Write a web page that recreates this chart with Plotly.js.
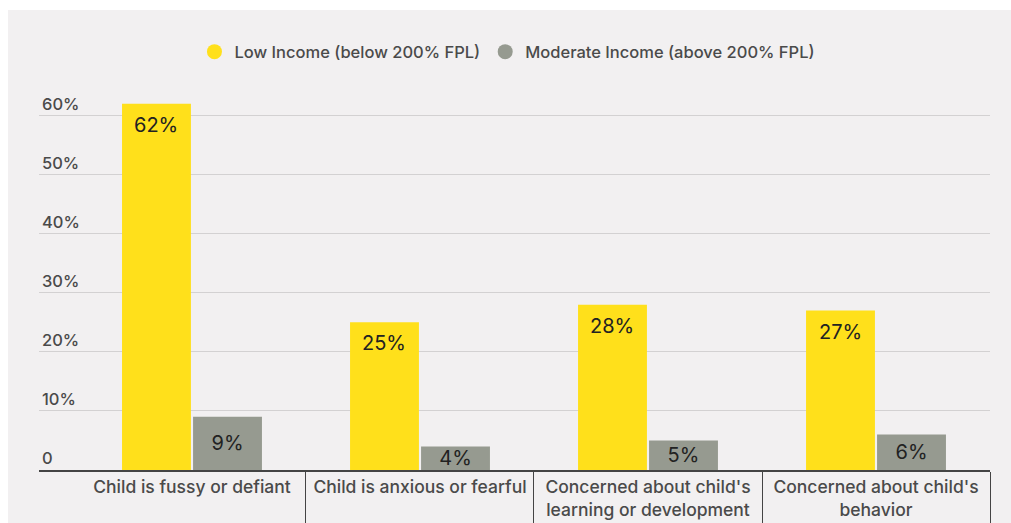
<!DOCTYPE html>
<html>
<head>
<meta charset="utf-8">
<script src="https://cdn.plot.ly/plotly-3.0.1.min.js"></script>
<style>
  html, body { margin: 0; padding: 0; background: #ffffff; }
  #chart { position: absolute; left: 8px; top: 10px; width: 1003px; height: 513px; }
</style>
</head>
<body>
<div id="chart"></div>
<script>
const categories = [
  "Child is fussy or defiant",
  "Child is anxious or fearful",
  "Concerned about child's<br>learning or development",
  "Concerned about child's<br>behavior"
];
const seriesNames = ["Low Income (below 200% FPL)", "Moderate Income (above 200% FPL)"];
const lowIncome = [62, 25, 28, 27];
const moderateIncome = [9, 4, 5, 6];
const yTickVals = [0, 10, 20, 30, 40, 50, 60];
const yTickText = ["0", "10%", "20%", "30%", "40%", "50%", "60%"];

const yellow = "#FFE01B";
const grey = "#969A90";
const font = "Inter, 'Open Sans', sans-serif";

const traces = [
  {
    type: "bar", x: categories, y: lowIncome, name: seriesNames[0],
    marker: { color: yellow }, showlegend: false, hoverinfo: "skip"
  },
  {
    type: "bar", x: categories, y: moderateIncome, name: seriesNames[1],
    marker: { color: grey }, showlegend: false,
    text: moderateIncome.map(v => v + "%"), textposition: "inside", insidetextanchor: "middle",
    constraintext: "none", textangle: 0,
    textfont: { family: font, size: 20, color: "#222222" }, hoverinfo: "skip"
  },
  {
    type: "scatter", mode: "markers", x: [null], y: [null], name: seriesNames[0],
    marker: { color: yellow, size: 15, symbol: "circle" }, hoverinfo: "skip"
  },
  {
    type: "scatter", mode: "markers", x: [null], y: [null], name: seriesNames[1],
    marker: { color: grey, size: 15, symbol: "circle" }, hoverinfo: "skip"
  }
];

const annotations = categories.map((c, i) => ({
  x: c, y: lowIncome[i], xref: "x", yref: "y",
  text: lowIncome[i] + "%", showarrow: false,
  xshift: -36, yanchor: "top", yshift: -7,
  font: { family: font, size: 20, color: "#222222" }
}));

const layout = {
  width: 1003, height: 513,
  paper_bgcolor: "#F2F0F1", plot_bgcolor: "#F2F0F1",
  margin: { l: 31, r: 21, t: 82, b: 53 },
  barmode: "group", bargap: 0.377, bargroupgap: 0.03,
  font: { family: font, color: "#444444", size: 16 },
  showlegend: true,
  legend: {
    orientation: "h", x: 0.4926, xanchor: "center", y: 1.106, yanchor: "middle",
    font: { family: font, size: 16.5, color: "#4a4a4a", weight: 500 }, bgcolor: "rgba(0,0,0,0)"
  },
  annotations: annotations,
  xaxis: {
    type: "category", range: [-0.671, 3.5], fixedrange: true,
    showline: true, linecolor: "#444444", linewidth: 2,
    tickson: "boundaries", ticks: "outside", ticklen: 53, tickwidth: 1, tickcolor: "#444444",
    showgrid: false, zeroline: false,
    tickfont: { family: font, size: 17.5, color: "#4a4a4a", weight: 500 }
  },
  yaxis: {
    range: [0, 64], fixedrange: true,
    tickvals: yTickVals, ticktext: yTickText,
    ticklabelposition: "inside top",
    showgrid: true, gridcolor: "#D3D1D2", gridwidth: 1,
    zeroline: false, showline: false, ticks: "",
    tickfont: { family: font, size: 16.5, color: "#4a4a4a", weight: 500 }
  }
};

Plotly.newPlot("chart", traces, layout, { displayModeBar: false, staticPlot: true });
</script>
</body>
</html>
